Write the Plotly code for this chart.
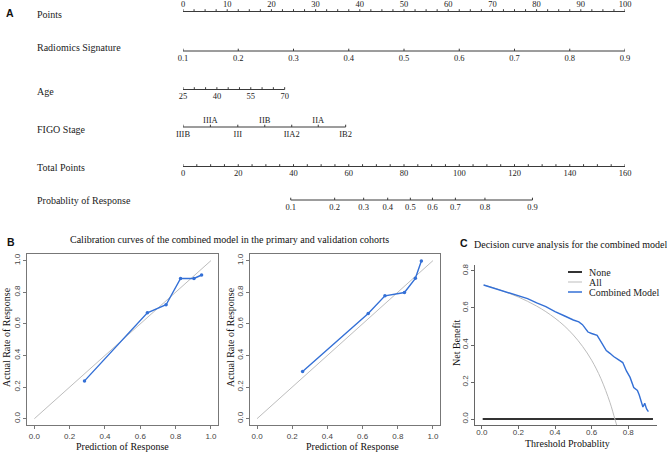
import numpy as np
import plotly.graph_objects as go

W, H = 667, 455
SERIF = "Liberation Serif"
SANS = "Liberation Sans"

# ---------------- Nomogram data (A) ----------------
points_labels = [0, 10, 20, 30, 40, 50, 60, 70, 80, 90, 100]
points_minor_step = 2.5
radiomics_labels = [0.1, 0.2, 0.3, 0.4, 0.5, 0.6, 0.7, 0.8, 0.9]
radiomics_points_range = [0, 100]          # 0.1 -> 0 pts, 0.9 -> 100 pts
age_labels = [25, 40, 55, 70]
age_minor = [25, 30, 35, 40, 45, 50, 55, 60, 65, 70]
age_points_range = [0, 23.0]               # 25 -> 0 pts, 70 -> 23 pts
figo_stages = ["IIIB", "IIIA", "III", "IIB", "IIA2", "IIA", "IB2"]
figo_points = [0, 6.2, 12.4, 18.5, 24.6, 30.6, 36.8]
total_labels = [0, 20, 40, 60, 80, 100, 120, 140, 160]
total_minor_step = 5
total_max = 160
prob_labels = [0.1, 0.2, 0.3, 0.4, 0.5, 0.6, 0.7, 0.8, 0.9]
prob_total_points = [39.0, 54.9, 65.4, 74.1, 82.3, 90.3, 98.6, 109.3, 126.5]

# ---------------- Calibration data (B) ----------------
cal1_pred = [0.284, 0.640, 0.746, 0.828, 0.904, 0.947]
cal1_obs = [0.239, 0.670, 0.721, 0.887, 0.887, 0.909]
cal2_pred = [0.259, 0.632, 0.727, 0.838, 0.900, 0.934]
cal2_obs = [0.299, 0.665, 0.777, 0.798, 0.888, 0.998]

# ---------------- Decision curve data (C) ----------------
dca_thr = [0.01, 0.05, 0.10, 0.15, 0.20, 0.25, 0.30, 0.35, 0.40, 0.42, 0.45,
           0.50, 0.53, 0.55, 0.58, 0.60, 0.63, 0.65, 0.68, 0.70, 0.72, 0.75,
           0.77, 0.79, 0.81, 0.83, 0.85, 0.86, 0.87, 0.88, 0.89, 0.90, 0.91]
dca_model = [0.724, 0.712, 0.698, 0.683, 0.667, 0.650, 0.627, 0.607, 0.580,
             0.572, 0.558, 0.535, 0.525, 0.510, 0.470, 0.462, 0.452, 0.420,
             0.370, 0.355, 0.338, 0.318, 0.305, 0.260, 0.225, 0.170, 0.155,
             0.130, 0.100, 0.065, 0.085, 0.055, 0.040]
all_thr = [0.01, 0.05, 0.10, 0.15, 0.20, 0.25, 0.30, 0.35, 0.40, 0.45, 0.50,
           0.55, 0.60, 0.65, 0.70, 0.727, 0.745]
all_nb = [0.724, 0.713, 0.697, 0.679, 0.659, 0.636, 0.610, 0.580, 0.545, 0.504,
          0.454, 0.393, 0.318, 0.220, 0.090, 0.0, -0.06]
none_thr = [0.005, 0.935]
none_nb = [0.0, 0.0]

BLUE = "#3470d6"
GRAY = "#bdbdbd"
DARK = "#333333"


def px(x):
    return x / W


def py(y):
    return 1 - y / H


fig = go.Figure()

# ---------------- Nomogram helpers ----------------
LINE_COL = "#3a3a3a"
TXT_COL = "#222222"


def add_scale(pos_major, pos_minor, line_y, labels, label_y, tick_len=2.3):
    lo, hi = min(pos_major + pos_minor), max(pos_major + pos_minor)
    fig.add_trace(go.Scatter(x=[lo, hi], y=[line_y, line_y], mode="lines",
                             line=dict(color=LINE_COL, width=1), xaxis="x", yaxis="y",
                             hoverinfo="skip", showlegend=False))
    tx, ty = [], []
    for p in sorted(set(pos_major + pos_minor)):
        tx += [p, p, None]
        ty += [line_y, line_y - tick_len, None]
    fig.add_trace(go.Scatter(x=tx, y=ty, mode="lines",
                             line=dict(color=LINE_COL, width=1), xaxis="x", yaxis="y",
                             hoverinfo="skip", showlegend=False))
    if labels is not None:
        if not isinstance(label_y, list):
            label_y = [label_y] * len(labels)
        fig.add_trace(go.Scatter(x=pos_major, y=label_y, mode="text", text=labels,
                                 textposition="middle center",
                                 textfont=dict(family=SERIF, size=8.5, color=TXT_COL),
                                 xaxis="x", yaxis="y", hoverinfo="skip",
                                 showlegend=False, cliponaxis=False))


def lin(vals, vmin, vmax, p0, p1):
    return [p0 + (v - vmin) / (vmax - vmin) * (p1 - p0) for v in vals]


# Points
pts_minor = list(np.arange(0, 100 + 1e-9, points_minor_step))
add_scale(points_labels, pts_minor, 11.5, [str(v) for v in points_labels], 4.5)
# Radiomics
rad_pos = lin(radiomics_labels, radiomics_labels[0], radiomics_labels[-1], *radiomics_points_range)
add_scale(rad_pos, [], 51, [f"{v:.1f}" for v in radiomics_labels], 58.5)
# Age
age_pos = lin(age_labels, 25, 70, *age_points_range)
age_minor_pos = lin(age_minor, 25, 70, *age_points_range)
add_scale(age_pos, age_minor_pos, 89.5, [str(v) for v in age_labels], 96.5)
# FIGO
figo_label_y = [134.5 if i % 2 == 0 else 120.5 for i in range(len(figo_stages))]
add_scale(figo_points, [], 127, figo_stages, figo_label_y)
# Total points
tot_pos = [v * 100 / total_max for v in total_labels]
tot_minor = [v * 100 / total_max for v in np.arange(0, total_max + 1e-9, total_minor_step)]
add_scale(tot_pos, tot_minor, 166.5, [str(v) for v in total_labels], 173.5)
# Probability
prob_pos = [v * 100 / total_max for v in prob_total_points]
add_scale(prob_pos, [], 200, [f"{v:.1f}" for v in prob_labels], 207.5)

row_titles = [("Points", 14), ("Radiomics Signature", 48), ("Age", 91.5),
              ("FIGO Stage", 129), ("Total Points", 167), ("Probablity of Response", 200.5)]

annotations = []
for t, yy in row_titles:
    annotations.append(dict(text=t, x=px(35), y=py(yy), xref="paper", yref="paper",
                            xanchor="left", yanchor="middle", showarrow=False,
                            font=dict(family=SERIF, size=10, color=TXT_COL)))

# ---------------- Calibration plots ----------------
for (xa, ya, pr, ob) in [("x2", "y2", cal1_pred, cal1_obs), ("x3", "y3", cal2_pred, cal2_obs)]:
    fig.add_trace(go.Scatter(x=[0, 1], y=[0, 1], mode="lines",
                             line=dict(color=GRAY, width=1), xaxis=xa, yaxis=ya,
                             hoverinfo="skip", showlegend=False))
    fig.add_trace(go.Scatter(x=pr, y=ob, mode="lines+markers",
                             line=dict(color=BLUE, width=1.4),
                             marker=dict(color=BLUE, size=3.5),
                             xaxis=xa, yaxis=ya, hoverinfo="skip", showlegend=False))

# ---------------- DCA ----------------
fig.add_trace(go.Scatter(x=none_thr, y=none_nb, mode="lines", line=dict(color=DARK, width=2),
                         xaxis="x4", yaxis="y4", showlegend=False, hoverinfo="skip"))
fig.add_trace(go.Scatter(x=all_thr, y=all_nb, mode="lines", line=dict(color=GRAY, width=1, shape="spline"),
                         xaxis="x4", yaxis="y4", showlegend=False, hoverinfo="skip"))
fig.add_trace(go.Scatter(x=dca_thr, y=dca_model, mode="lines", line=dict(color=BLUE, width=1.4),
                         xaxis="x4", yaxis="y4", showlegend=False, hoverinfo="skip"))

# Legend (manual)
shapes = []
for yy, col, wd, lab in [(272, DARK, 2, "None"), (282, GRAY, 1, "All"), (292, BLUE, 1.5, "Combined Model")]:
    shapes.append(dict(type="line", xref="paper", yref="paper", x0=px(568), x1=px(582),
                       y0=py(yy), y1=py(yy), line=dict(color=col, width=wd)))
    annotations.append(dict(text=lab, x=px(587), y=py(yy), xref="paper", yref="paper",
                            xanchor="left", yanchor="middle", showarrow=False,
                            font=dict(family=SERIF, size=10, color=TXT_COL)))

# Titles / labels
def ann(text, x, y, size=10, family=SERIF, xanchor="center", angle=0, bold=False):
    annotations.append(dict(text=f"<b>{text}</b>" if bold else text, x=px(x), y=py(y),
                            xref="paper", yref="paper", xanchor=xanchor, yanchor="middle",
                            showarrow=False, textangle=angle,
                            font=dict(family=family, size=size, color="#111")))

ann("A", 10, 13, size=10.5, family=SANS, bold=True)
ann("B", 10.5, 242, size=10.5, family=SANS, bold=True)
ann("C", 464, 243, size=10.5, family=SANS, bold=True)
ann("Calibration curves of the combined model in the primary and validation cohorts", 229, 239)
ann("Decision curve analysis for the combined model", 472, 244, xanchor="left")
ann("Actual Rate of Response", 6, 337, angle=-90)
ann("Actual Rate of Response", 230, 337, angle=-90)
ann("Prediction of Response", 122.7, 446.5)
ann("Prediction of Response", 352, 446.5)
ann("Net Benefit", 456, 343, angle=-90)
ann("Threshold Probablity", 567, 443.5)

cal_ax = dict(range=[-0.04, 1.04], showline=True, mirror=True, linecolor="#777", linewidth=1,
              ticks="outside", ticklen=3, tickcolor="#777", tickvals=[0, 0.2, 0.4, 0.6, 0.8, 1.0],
              tickformat=".1f", tickfont=dict(family=SANS, size=8, color="#444"),
              showgrid=False, zeroline=False)
cal_y = dict(cal_ax, tickangle=-90)

dca_x = dict(range=[-0.037, 0.957], showline=True, mirror=False, linecolor="#666", linewidth=1,
             ticks="outside", ticklen=3, tickcolor="#666", tickvals=[0, 0.2, 0.4, 0.6, 0.8],
             tickformat=".1f", tickfont=dict(family=SANS, size=8, color="#444"),
             showgrid=False, zeroline=False, ticklabelstandoff=-4)
dca_y = dict(dca_x, range=[-0.032, 0.832], tickangle=-90, ticklabelstandoff=0)

fig.update_layout(
    width=W, height=H, margin=dict(l=0, r=0, t=0, b=0),
    paper_bgcolor="white", plot_bgcolor="white", showlegend=False,
    xaxis=dict(domain=[px(183), px(625)], range=[0, 100], visible=False),
    yaxis=dict(domain=[py(215), 1], range=[215, 0], visible=False),
    xaxis2=dict(cal_ax, domain=[px(27.3), px(218)], anchor="y2"),
    yaxis2=dict(cal_y, domain=[py(425), py(254.3)], anchor="x2"),
    xaxis3=dict(cal_ax, domain=[px(250), px(440)], anchor="y3"),
    yaxis3=dict(cal_y, domain=[py(425), py(254.3)], anchor="x3"),
    xaxis4=dict(dca_x, domain=[px(475), px(657)], anchor="y4"),
    yaxis4=dict(dca_y, domain=[py(425), py(265)], anchor="x4"),
    annotations=annotations, shapes=shapes,
)

fig.write_html("out.html", config={"displayModeBar": False, "staticPlot": True},
               post_script="document.body.style.margin='0';document.body.style.overflow='hidden';")
